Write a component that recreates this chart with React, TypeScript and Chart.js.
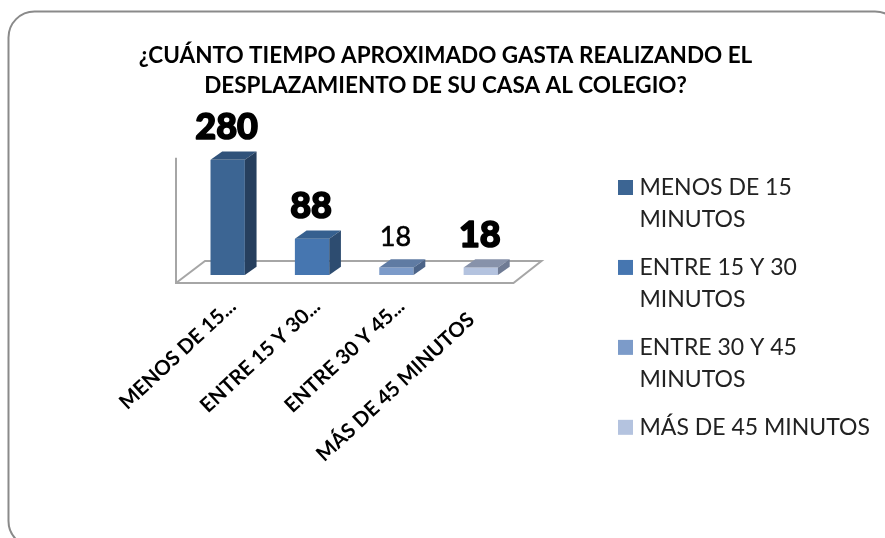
import React, { useEffect, useRef } from "react";
import { Chart, registerables } from "chart.js";

Chart.register(...registerables);

const FONT = "Lato";
const title = [
  "¿CUÁNTO TIEMPO APROXIMADO GASTA REALIZANDO EL",
  "DESPLAZAMIENTO DE SU CASA AL COLEGIO?",
];
const categories = [
  "MENOS DE 15 MINUTOS",
  "ENTRE 15 Y 30 MINUTOS",
  "ENTRE 30 Y 45 MINUTOS",
  "MÁS DE 45 MINUTOS",
];
const tickLabels = ["MENOS DE 15...", "ENTRE 15 Y 30...", "ENTRE 30 Y 45...", "MÁS DE 45 MINUTOS    "];
const legendLabels = [
  ["MENOS DE 15", "MINUTOS"],
  ["ENTRE 15 Y 30", "MINUTOS"],
  ["ENTRE 30 Y 45", "MINUTOS"],
  ["MÁS DE 45 MINUTOS"],
];
const values = [280, 88, 18, 18];
const frontColors = ["#3c6593", "#4676b0", "#7c9bc9", "#b4c3df"];
const topColors = ["#30527a", "#36608f", "#5f7ba3", "#8792aa"];
const sideColors = ["#263f5e", "#2d4c70", "#4c6488", "#6f7b94"];
const heavyLabel = [true, true, false, true];

const DEPTH_X = 11.7;
const DEPTH_Y = 8.3;

const frame = {
  id: "frame",
  beforeDraw(chart: any) {
    const { ctx } = chart;
    ctx.save();
    ctx.fillStyle = "#fff";
    ctx.fillRect(0, 0, chart.width, chart.height);
    ctx.strokeStyle = "#8a8a8a";
    ctx.lineWidth = 2;
    ctx.beginPath();
    ctx.roundRect(8.5, 11.5, 892.5, 535.5, 26);
    ctx.stroke();
    ctx.restore();
  },
};

const floor3d = {
  id: "floor3d",
  beforeDatasetsDraw(chart: any) {
    const { ctx, chartArea: a } = chart;
    const left = a.left - 9.5;
    const right = a.right - 9.5;
    const front = a.bottom + 8;
    const back = a.bottom - 14;
    ctx.save();
    ctx.strokeStyle = "#a6a6a6";
    ctx.lineWidth = 2;
    ctx.beginPath();
    ctx.moveTo(left, a.top - 2);
    ctx.lineTo(left, front);
    ctx.lineTo(right, front);
    ctx.lineTo(right + 28, back);
    ctx.lineTo(left + 29, back);
    ctx.lineTo(left, front);
    ctx.stroke();
    ctx.restore();
  },
};

const bars3d = {
  id: "bars3d",
  afterDatasetsDraw(chart: any) {
    const { ctx } = chart;
    const elements = chart.getDatasetMeta(0).data;
    ctx.save();
    elements.forEach((el: any, i: number) => {
      const l = el.x - el.width / 2;
      const r = el.x + el.width / 2;
      const t = el.y;
      const b = el.base;
      ctx.fillStyle = topColors[i];
      ctx.beginPath();
      ctx.moveTo(l, t);
      ctx.lineTo(l + DEPTH_X, t - DEPTH_Y);
      ctx.lineTo(r + DEPTH_X, t - DEPTH_Y);
      ctx.lineTo(r, t);
      ctx.closePath();
      ctx.fill();
      ctx.fillStyle = sideColors[i];
      ctx.beginPath();
      ctx.moveTo(r, t);
      ctx.lineTo(r + DEPTH_X, t - DEPTH_Y);
      ctx.lineTo(r + DEPTH_X, b - DEPTH_Y);
      ctx.lineTo(r, b);
      ctx.closePath();
      ctx.fill();

      const cx = el.x - 1;
      const cy = t - (i === 2 ? 30 : 32);
      ctx.textAlign = "center";
      ctx.textBaseline = "middle";
      ctx.fillStyle = "#000";
      ctx.strokeStyle = "#000";
      ctx.lineJoin = "round";
      if (heavyLabel[i]) {
        ctx.font = `900 36px ${FONT}`;
        ctx.lineWidth = 1.6;
      } else {
        ctx.font = `400 27px ${FONT}`;
        ctx.lineWidth = 0.6;
      }
      ctx.strokeText(String(values[i]), cx, cy);
      ctx.fillText(String(values[i]), cx, cy);
    });
    ctx.restore();
  },
};

export default function App() {
  const ref = useRef<HTMLCanvasElement>(null);
  useEffect(() => {
    const chart = new Chart(ref.current!, {
      type: "bar",
      data: {
        labels: tickLabels,
        datasets: [
          {
            data: values,
            backgroundColor: frontColors,
            categoryPercentage: 1,
            barPercentage: 0.407,
          },
        ],
      },
      plugins: [frame, floor3d, bars3d],
      options: {
        animation: false,
        responsive: false,
        layout: { padding: { left: 11, right: 5, top: 0, bottom: 0 } },
        plugins: {
          title: {
            display: true,
            text: title,
            color: "#000",
            font: { family: FONT, size: 22.5, weight: "bold", lineHeight: 1.33 },
            padding: { top: 41, bottom: 59 },
          },
          legend: {
            position: "right",
            align: "start",
            maxWidth: 400,
            title: {
              display: true,
              text: " ",
              font: { family: FONT, size: 10, lineHeight: 1 },
              padding: { top: 150, bottom: 0 },
            },
            labels: {
              boxWidth: 5,
              boxHeight: 5,
              padding: 16,
              color: "#222",
              font: { family: FONT, size: 23, lineHeight: 1.39 },
              generateLabels: () =>
                categories.map((_, i) => ({
                  text: legendLabels[i] as any,
                  fillStyle: frontColors[i],
                  strokeStyle: frontColors[i],
                  fontColor: "#222",
                  lineWidth: 10,
                  index: i,
                })),
            },
          },
          tooltip: { enabled: false },
        },
        scales: {
          x: {
            grid: { display: false },
            border: { display: false },
            ticks: {
              autoSkip: false,
              minRotation: 43,
              maxRotation: 43,
              padding: 11,
              labelOffset: 5,
              color: "#000",
              font: { family: FONT, size: 20.5, weight: "bold" },
            },
            afterFit: (s: any) => {
              s.height = 263;
            },
          },
          y: {
            min: 0,
            max: 280,
            display: true,
            grid: { display: false },
            border: { display: false },
            ticks: { display: false },
            afterFit: (s: any) => {
              s.width = 174.5;
            },
          },
          gap: {
            position: "right",
            display: true,
            grid: { display: false },
            border: { display: false },
            ticks: { display: false },
            afterFit: (s: any) => {
              s.width = 84;
            },
          },
        },
      } as any,
    });
    return () => chart.destroy();
  }, []);
  return (
    <canvas
      ref={ref}
      width={885}
      height={538}
      style={{ position: "fixed", left: 0, top: 0, width: 885, height: 538 }}
    />
  );
}
